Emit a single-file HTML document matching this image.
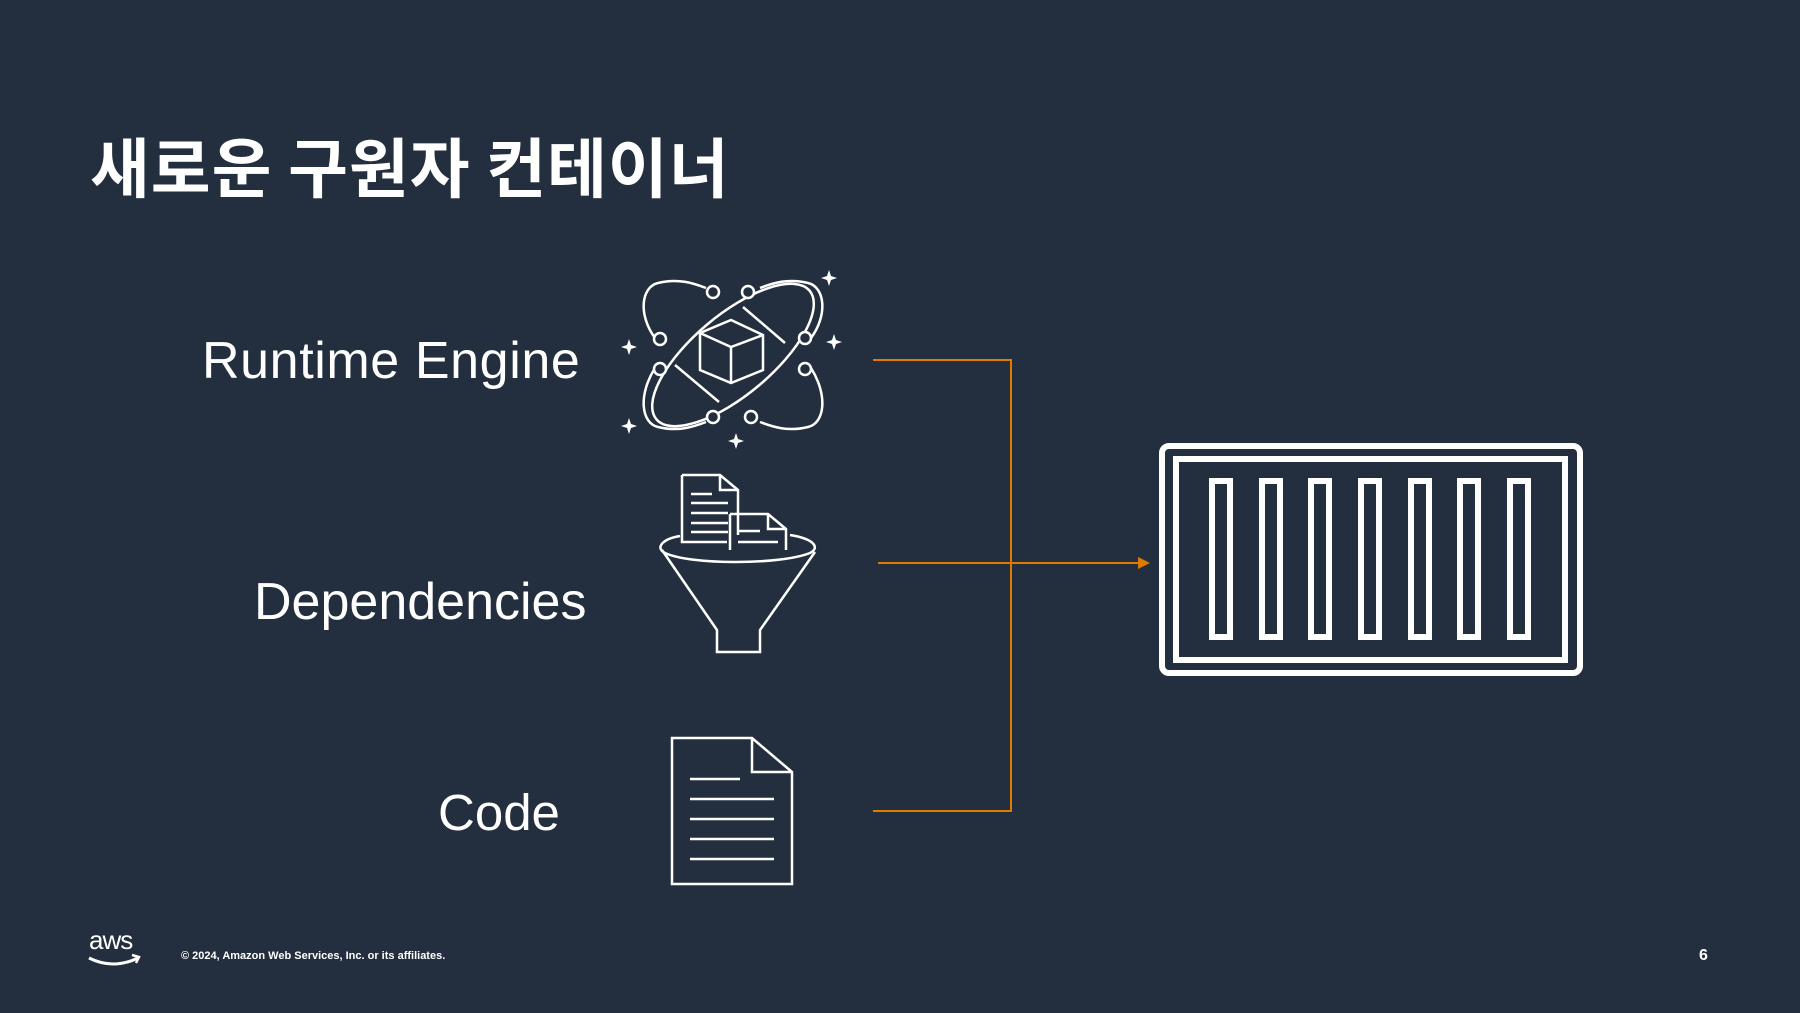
<!DOCTYPE html>
<html><head><meta charset="utf-8"><style>
html,body{margin:0;padding:0;}
body{width:1800px;height:1013px;background:#232f3e;position:relative;overflow:hidden;font-family:"Liberation Sans","Noto Sans CJK KR",sans-serif;color:#fff;}
.t{position:absolute;white-space:nowrap;}
</style></head><body>
<div class="t" style="left:90px;top:117px;font-size:65px;font-weight:bold;letter-spacing:1px;font-family:'Noto Sans CJK KR','NanumGothic',sans-serif;">새로운 구원자 컨테이너</div>
<div class="t" style="left:202px;top:331px;font-size:52px;letter-spacing:0.6px;">Runtime Engine</div>
<div class="t" style="left:254px;top:572px;font-size:52px;">Dependencies</div>
<div class="t" style="left:438px;top:783px;font-size:51px;">Code</div>
<div class="t" style="left:181px;top:950px;font-size:11px;font-weight:bold;">© 2024, Amazon Web Services, Inc. or its affiliates.</div>
<div class="t" style="left:1699px;top:947px;font-size:16px;font-weight:bold;">6</div>
<div class="t" style="left:89px;top:925px;font-size:26px;letter-spacing:-1px;">aws</div>
<svg width="1800" height="1013" style="position:absolute;left:0;top:0" fill="none" stroke="#fff" stroke-width="2.5">
<path d="M89 958 Q113 970 138 958" stroke-width="3"/><path d="M132 955 L139 957 L136 963" stroke-width="2.5"/>
<g stroke="#e07b00" stroke-width="2">
<path d="M873 360 H1011 V811 H873"/>
<path d="M878 563 H1140"/>
</g>
<path d="M1138 557 L1150 563 L1138 569Z" fill="#e07b00" stroke="none"/>
<rect x="1162" y="446" width="418" height="227" rx="7" stroke-width="6"/>
<rect x="1176" y="459" width="389" height="201" stroke-width="6"/>
<g stroke-width="6">
<rect x="1212" y="481" width="18" height="156"/><rect x="1262" y="481" width="18" height="156"/><rect x="1311" y="481" width="18" height="156"/><rect x="1361" y="481" width="18" height="156"/><rect x="1411" y="481" width="18" height="156"/><rect x="1460" y="481" width="18" height="156"/><rect x="1510" y="481" width="18" height="156"/>
</g>
<g transform="translate(733,355)">
<ellipse rx="100" ry="40" transform="rotate(-40)"/>
<path d="M-78 -17 C-95 -40 -92 -68 -75 -72 C-55 -77 -40 -72 -27 -67"/>
<path d="M-78 13 C-95 40 -92 68 -75 72 C-55 77 -40 72 -27 67"/>
<path d="M78 -17 C95 -40 92 -68 75 -72 C55 -77 40 -72 27 -67"/>
<path d="M78 13 C95 40 92 68 75 72 C55 77 40 72 27 67"/>
<g fill="#232f3e"><circle cx="-20" cy="-63" r="6"/><circle cx="15" cy="-63" r="6"/><circle cx="-73" cy="-16" r="6"/><circle cx="72" cy="-17" r="6"/><circle cx="-73" cy="14" r="6"/><circle cx="72" cy="14" r="6"/><circle cx="-20" cy="62" r="6"/><circle cx="18" cy="62" r="6"/></g>
<path d="M-33 -22 L-2 -35 L30 -20 L30 15 L-2 28 L-33 15 Z M-33 -22 L-2 -8 L30 -20 M-2 -8 V28"/>
<path d="M10 -48 L52 -12 M-58 10 L-14 47"/>
</g>
<g fill="#fff" stroke="none">
<path d="M829 270 l2 6 6 2 -6 2 -2 6 -2 -6 -6 -2 6 -2z"/>
<path d="M834 334 l2 6 6 2 -6 2 -2 6 -2 -6 -6 -2 6 -2z"/>
<path d="M629 339 l2 6 6 2 -6 2 -2 6 -2 -6 -6 -2 6 -2z"/>
<path d="M629 418 l2 6 6 2 -6 2 -2 6 -2 -6 -6 -2 6 -2z"/>
<path d="M736 433 l2 6 6 2 -6 2 -2 6 -2 -6 -6 -2 6 -2z"/>
</g>
<path d="M682 475 H720 L738 490 V535 M682 475 V542 H727 M720 475 V490 H738"/>
<path d="M691 494 H712 M691 503 H728 M691 513 H728 M691 523 H728 M691 532 H728"/>
<path d="M730 514 H768 L786 529 V550 M730 514 V550 M768 514 V529 H786 M738 531 H760 M738 542 H778"/>
<path d="M790 535 C815 539 820 548 810 553 C780 565 690 565 665 553 C655 548 662 539 680 536"/>
<path d="M662 550 L717 630 V652 H760 V630 L815 552"/>
<path d="M672 738 H752 L792 772 V884 H672 Z M752 738 V772 H792"/>
<path d="M690 779 H740 M690 799 H774 M690 819 H774 M690 839 H774 M690 859 H774"/>
</svg>
</body></html>
